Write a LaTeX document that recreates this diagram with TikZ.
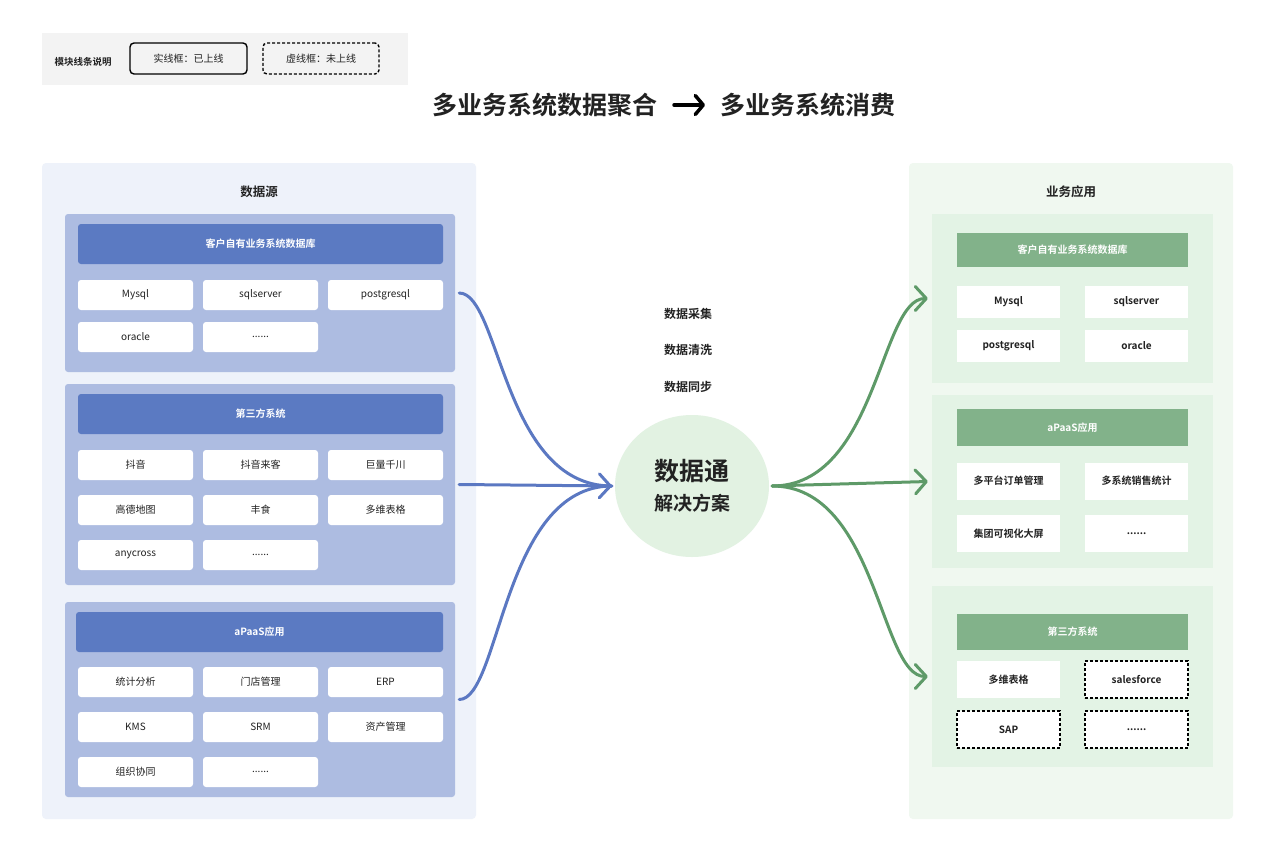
\documentclass[tikz,border=0pt]{standalone}
\usepackage{fontspec}
\setmainfont{Noto Sans CJK SC}[BoldFont={Noto Sans CJK SC Bold}]
\usepackage{xcolor}
\usetikzlibrary{arrows.meta, positioning, shapes.geometric}

\definecolor{srcpanel}{HTML}{EEF2FA}
\definecolor{srcgroup}{HTML}{ADBCE1}
\definecolor{srchead}{HTML}{5B7AC2}
\definecolor{tgtpanel}{HTML}{F0F8F0}
\definecolor{tgtgroup}{HTML}{E3F3E5}
\definecolor{tgthead}{HTML}{82B28A}
\definecolor{hubfill}{HTML}{E2F2E2}
\definecolor{flowblue}{HTML}{5B78C2}
\definecolor{flowgreen}{HTML}{5E9A68}
\definecolor{legendbg}{HTML}{F3F3F3}
\definecolor{inktext}{HTML}{222222}

\newcommand{\fs}[1]{\fontsize{#1}{#1}\selectfont}

\begin{document}
\begin{tikzpicture}[
  x=1pt, y=-1pt,
  every node/.style={text=inktext},
  panel/.style={rounded corners=4pt, inner sep=0pt},
  grp/.style={rounded corners=3pt, inner sep=0pt},
  srchd/.style={fill=srchead, rounded corners=3pt, minimum width=365pt, minimum height=40pt, text=white, font=\fs{10}\bfseries},
  tgthd/.style={fill=tgthead, minimum width=231pt, text=white, font=\fs{10}\bfseries},
  sitem/.style={fill=white, rounded corners=3pt, minimum width=115pt, minimum height=30pt, font=\fs{10}},
  titem/.style={fill=white, minimum width=103pt, font=\fs{10}\bfseries},
  todo/.style={draw=black, line width=1.4pt, dash pattern=on 3pt off 2pt},
  flowin/.style={draw=flowblue, line width=3pt, line cap=round},
  flowout/.style={draw=flowgreen, line width=3pt, line cap=round},
  barb/.style={-{Straight Barb[length=11pt, width=24pt, round]}},
  heading/.style={font=\fs{12.5}\bfseries},
  step label/.style={font=\fs{12}\bfseries}
]
\useasboundingbox[fill=white] (0,0) rectangle (1280,849);

% legend
\node[fill=legendbg, minimum width=366pt, minimum height=52pt] (legend) at (225,59) {};
\node[font=\fs{9.5}\bfseries] (legtitle) at (83,62) {模块线条说明};
\node[draw=black, line width=1.4pt, rounded corners=4pt, minimum width=117pt, minimum height=31pt, font=\fs{10}] (legsolid) at (188.5,58.5) {实线框：已上线};
\node[todo, rounded corners=4pt, minimum width=116pt, minimum height=31pt, font=\fs{10}] (legdash) at (321,58.5) {虚线框：未上线};

% title
\node[font=\fs{25}\bfseries] (titleL) at (545,105) {多业务系统数据聚合};
\node[font=\fs{25}\bfseries] (titleR) at (808,105) {多业务系统消费};
\draw[line width=3.5pt, line cap=round, -{Straight Barb[length=8pt, width=19pt, round]}] (674,105) -- (705,105);

% data sources
\node[panel, fill=srcpanel, minimum width=434pt, minimum height=656pt] (srcpanel) at (259,491) {};
\node[heading] (srctitle) at (259,192) {数据源};

\node[grp, fill=srcgroup, minimum width=390pt, minimum height=158pt] (srcdb) at (260,293) {};
\node[srchd] (srcdbhd) at (260.5,244) {客户自有业务系统数据库};
\node[sitem] (s11) at (135.5,295) {Mysql};
\node[sitem] (s12) at (260.5,295) {sqlserver};
\node[sitem] (s13) at (385.5,295) {postgresql};
\node[sitem] (s14) at (135.5,337) {oracle};
\node[sitem] (s15) at (260.5,337) {......};

\node[grp, fill=srcgroup, minimum width=390pt, minimum height=201pt] (srcext) at (260,484.5) {};
\node[srchd] (srcexthd) at (260.5,414) {第三方系统};
\node[sitem] (s21) at (135.5,465) {抖音};
\node[sitem] (s22) at (260.5,465) {抖音来客};
\node[sitem] (s23) at (385.5,465) {巨量千川};
\node[sitem] (s24) at (135.5,510) {高德地图};
\node[sitem] (s25) at (260.5,510) {丰食};
\node[sitem] (s26) at (385.5,510) {多维表格};
\node[sitem] (s27) at (135.5,555) {anycross};
\node[sitem] (s28) at (260.5,555) {......};

\node[grp, fill=srcgroup, minimum width=390pt, minimum height=195pt] (srcapp) at (260,699.5) {};
\node[srchd, minimum width=367pt] (srcapphd) at (259.5,632) {aPaaS应用};
\node[sitem] (s31) at (135.5,682) {统计分析};
\node[sitem] (s32) at (260.5,682) {门店管理};
\node[sitem] (s33) at (385.5,682) {ERP};
\node[sitem] (s34) at (135.5,727) {KMS};
\node[sitem] (s35) at (260.5,727) {SRM};
\node[sitem] (s36) at (385.5,727) {资产管理};
\node[sitem] (s37) at (135.5,772) {组织协同};
\node[sitem] (s38) at (260.5,772) {......};

% hub
\node[step label] (collect) at (688,314) {数据采集};
\node[step label] (clean) at (688,350) {数据清洗};
\node[step label] (sync) at (688,387) {数据同步};
\node[ellipse, fill=hubfill, minimum width=154pt, minimum height=142pt, inner sep=0pt, align=center] (hub) at (692,486)
  {{\fs{25}\bfseries 数据通}\\[10pt]{\fs{19}\bfseries 解决方案}};

% business apps
\node[panel, fill=tgtpanel, minimum width=324pt, minimum height=656pt] (tgtpanel) at (1071,491) {};
\node[heading] (tgttitle) at (1071,192) {业务应用};

\node[grp, fill=tgtgroup, rounded corners=0pt, minimum width=281pt, minimum height=169pt] (tgtdb) at (1072.5,298.5) {};
\node[tgthd, minimum height=34pt] (tgtdbhd) at (1072.5,250) {客户自有业务系统数据库};
\node[titem, minimum height=32pt] (t11) at (1008.5,302) {Mysql};
\node[titem, minimum height=32pt] (t12) at (1136.5,302) {sqlserver};
\node[titem, minimum height=32pt] (t13) at (1008.5,346) {postgresql};
\node[titem, minimum height=32pt] (t14) at (1136.5,346) {oracle};

\node[grp, fill=tgtgroup, rounded corners=0pt, minimum width=281pt, minimum height=173pt] (tgtapp) at (1072.5,481.5) {};
\node[tgthd, minimum height=37pt] (tgtapphd) at (1072.5,427.5) {aPaaS应用};
\node[titem, minimum height=37pt] (t21) at (1008.5,481) {多平台订单管理};
\node[titem, minimum height=37pt] (t22) at (1136.5,481) {多系统销售统计};
\node[titem, minimum height=37pt] (t23) at (1008.5,533.5) {集团可视化大屏};
\node[titem, minimum height=37pt] (t24) at (1136.5,533.5) {......};

\node[grp, fill=tgtgroup, rounded corners=0pt, minimum width=281pt, minimum height=181pt] (tgtext) at (1072.5,676.5) {};
\node[tgthd, minimum height=36pt] (tgtexthd) at (1072.5,632) {第三方系统};
\node[titem, minimum height=37pt] (t31) at (1008.5,679.5) {多维表格};
\node[titem, todo, minimum height=37pt] (t32) at (1136.5,679.5) {salesforce};
\node[titem, todo, minimum height=37pt] (t33) at (1008.5,729.5) {SAP};
\node[titem, todo, minimum height=37pt] (t34) at (1136.5,729.5) {......};

% flows in
\draw[flowin, shorten >=3pt] ([xshift=4pt]srcdb.east) .. controls +(41,0) and +(-112,0) .. (hub.west);
\draw[flowin, shorten >=3pt] ([xshift=4pt]srcapp.east) .. controls +(41,0) and +(-112,0) .. (hub.west);
\draw[flowin, barb, shorten >=3pt] ([xshift=4pt]srcext.east) -- (hub.west);

% flows out
\draw[flowout, barb, shorten <=3pt] (hub.east) .. controls +(108,0) and +(-48,0) .. ([xshift=-4pt]tgtdb.west);
\draw[flowout, barb, shorten <=3pt] (hub.east) -- ([xshift=-4pt]tgtapp.west);
\draw[flowout, barb, shorten <=3pt] (hub.east) .. controls +(108,0) and +(-48,0) .. ([xshift=-4pt]tgtext.west);
\end{tikzpicture}
\end{document}
